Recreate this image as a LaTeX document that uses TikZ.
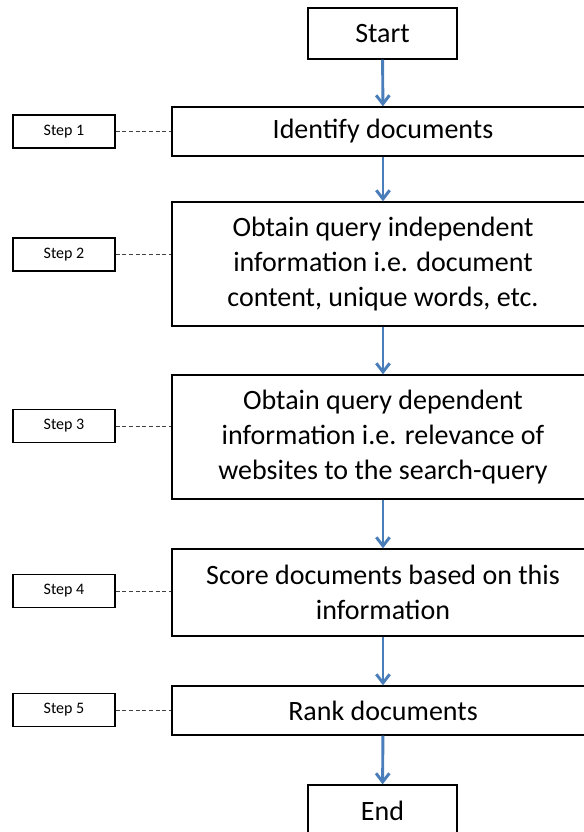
\documentclass[tikz,border=0pt]{standalone}
\usepackage{fontspec}
\setmainfont{Carlito}
\usetikzlibrary{arrows.meta}
\definecolor{arrowblue}{RGB}{74,126,187}

\begin{document}
\begin{tikzpicture}[x=0.75pt,y=-0.75pt,
  box/.style={draw,line width=1pt,inner sep=0pt,align=center,
    minimum width=316.5pt,font=\fontsize{21}{26.25}\selectfont},
  endbox/.style={draw,line width=1pt,inner sep=0pt,minimum width=111.75pt,
    minimum height=38.25pt,font=\fontsize{21}{26.25}\selectfont},
  stepbox/.style={draw,line width=0.9pt,inner sep=0pt,minimum width=76.5pt,
    minimum height=24.75pt,font=\fontsize{12}{14}\selectfont},
  flow/.style={-{Straight Barb[length=6.5pt,width=10pt]},line width=2.2pt,arrowblue},
  link/.style={densely dashed,line width=0.5pt,black!75}]
\useasboundingbox (0,0) rectangle (583,832);

% flow chart
\node[endbox] (start) at (382.5,33.5) {Start};
\node[box,minimum height=36.75pt] (b1) at (383,131.5) {Identify documents};
\node[box,minimum height=93pt] (b2) at (383,264)
  {Obtain query independent\\information i.e. document\\content, unique words, etc.};
\node[box,minimum height=93pt] (b3) at (383,437)
  {Obtain query dependent\\information i.e. relevance of\\websites to the search-query};
\node[box,minimum height=65.25pt] (b4) at (383,592.5)
  {Score documents based on this\\information};
\node[box,minimum height=36.75pt] (b5) at (383,710.5) {Rank documents};
\node[endbox] (end) at (382.5,810.5) {End};

\draw[flow] (start) -- (b1);
\draw[flow] (b1) -- (b2);
\draw[flow] (b2) -- (b3);
\draw[flow] (b3) -- (b4);
\draw[flow] (b4) -- (b5);
\draw[flow] (b5) -- (end);

% steps
\node[stepbox] (s1) at (64,131.5) {Step 1};
\node[stepbox] (s2) at (64,254.5) {Step 2};
\node[stepbox] (s3) at (64,426) {Step 3};
\node[stepbox] (s4) at (64,591) {Step 4};
\node[stepbox] (s5) at (64,710) {Step 5};

\draw[link] (s1.east) -- (s1.east -| b1.west);
\draw[link] (s2.east) -- (s2.east -| b2.west);
\draw[link] (s3.east) -- (s3.east -| b3.west);
\draw[link] (s4.east) -- (s4.east -| b4.west);
\draw[link] (s5.east) -- (s5.east -| b5.west);

\end{tikzpicture}
\end{document}
